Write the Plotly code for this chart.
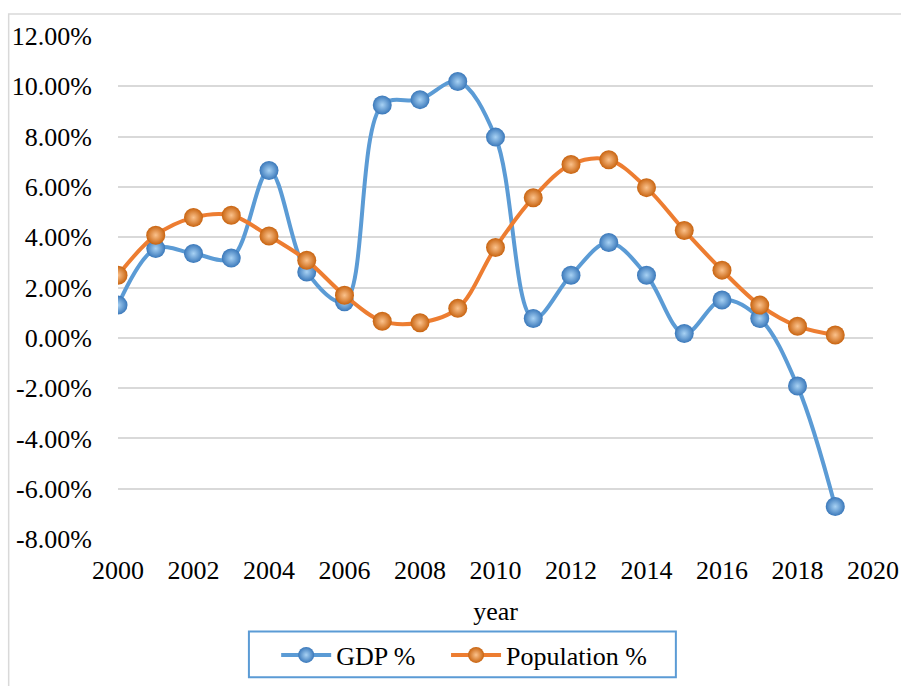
import plotly.graph_objects as go

years = list(range(2000, 2020))
gdp_pct = [1.30, 3.55, 3.35, 3.17, 6.65, 2.62, 1.43, 9.26, 9.47, 10.19,
           7.98, 0.77, 2.49, 3.79, 2.49, 0.17, 1.50, 0.77, -1.92, -6.71]
pop_pct = [2.49, 4.08, 4.78, 4.87, 4.05, 3.08, 1.69, 0.66, 0.60, 1.17,
           3.59, 5.57, 6.89, 7.08, 5.97, 4.27, 2.69, 1.30, 0.46, 0.11]
series_names = ["GDP %", "Population %"]
y_tick_vals = [-8, -6, -4, -2, 0, 2, 4, 6, 8, 10, 12]
y_tick_text = ["-8.00%", "-6.00%", "-4.00%", "-2.00%", "0.00%", "2.00%",
               "4.00%", "6.00%", "8.00%", "10.00%", "12.00%"]
x_tick_vals = [2000, 2002, 2004, 2006, 2008, 2010, 2012, 2014, 2016, 2018, 2020]

gdp = [v / 100 for v in gdp_pct]
pop = [v / 100 for v in pop_pct]

FONT = "Liberation Serif, Times New Roman, serif"
FS = 26

fig = go.Figure()
fig.add_trace(go.Scatter(
    x=years, y=gdp, name=series_names[0], mode="lines+markers", legend="legend",
    line=dict(color="#5B9BD5", width=4, shape="spline", smoothing=1.0),
    marker=dict(size=19, color="#3A78BA", line=dict(width=0),
                gradient=dict(type="radial", color="#A8D2F4")),
))
fig.add_trace(go.Scatter(
    x=years, y=pop, name=series_names[1], mode="lines+markers", legend="legend2",
    line=dict(color="#ED7D31", width=4, shape="spline", smoothing=1.0),
    marker=dict(size=19, color="#C8630F", line=dict(width=0),
                gradient=dict(type="radial", color="#FBC28C")),
))

leg_common = dict(
    orientation="h", xanchor="left", y=-0.184, yanchor="top",
    borderwidth=0, bgcolor="rgba(0,0,0,0)",
    font=dict(family=FONT, size=FS, color="black"),
    itemwidth=50,
)

fig.update_layout(
    width=901, height=686,
    margin=dict(l=118, r=28, t=36, b=147, autoexpand=False),
    paper_bgcolor="white", plot_bgcolor="white",
    font=dict(family=FONT, size=FS, color="black"),
    showlegend=True,
    legend=dict(x=0.2095, **leg_common),
    legend2=dict(x=0.4345, **leg_common),
    shapes=[
        dict(type="rect", xref="paper", yref="paper",
             x0=-0.1448, x1=1.05, y0=-0.32, y1=1.0437,
             line=dict(color="#D9D9D9", width=1.5), layer="below"),
        dict(type="rect", xref="paper", yref="paper",
             x0=0.1734, x1=0.7389, y0=-0.2748, y1=-0.1841,
             line=dict(color="#5B9BD5", width=2), layer="below"),
    ],
)
fig.update_xaxes(
    range=[2000, 2020], tickvals=x_tick_vals,
    showgrid=False, zeroline=False, showline=False, automargin=False,
    ticks="outside", ticklen=8, tickcolor="rgba(0,0,0,0)",
    title=dict(text="year", standoff=17, font=dict(family=FONT, size=FS)),
    tickfont=dict(family=FONT, size=FS),
)
fig.update_yaxes(
    range=[-0.08, 0.12], tickvals=[v / 100 for v in y_tick_vals], ticktext=y_tick_text,
    showgrid=True, gridcolor="#D9D9D9", gridwidth=1.5,
    zeroline=False, showline=False, automargin=False,
    ticks="outside", ticklen=20, tickcolor="rgba(0,0,0,0)",
    tickfont=dict(family=FONT, size=FS),
)

# remove the default page margin and scrollbars so the 901x686 figure fills the window
fig.write_html(
    "out.html",
    config={"displayModeBar": False},
    post_script="document.body.style.margin='0';"
                "document.documentElement.style.overflow='hidden';"
                "document.body.style.overflow='hidden';",
)
